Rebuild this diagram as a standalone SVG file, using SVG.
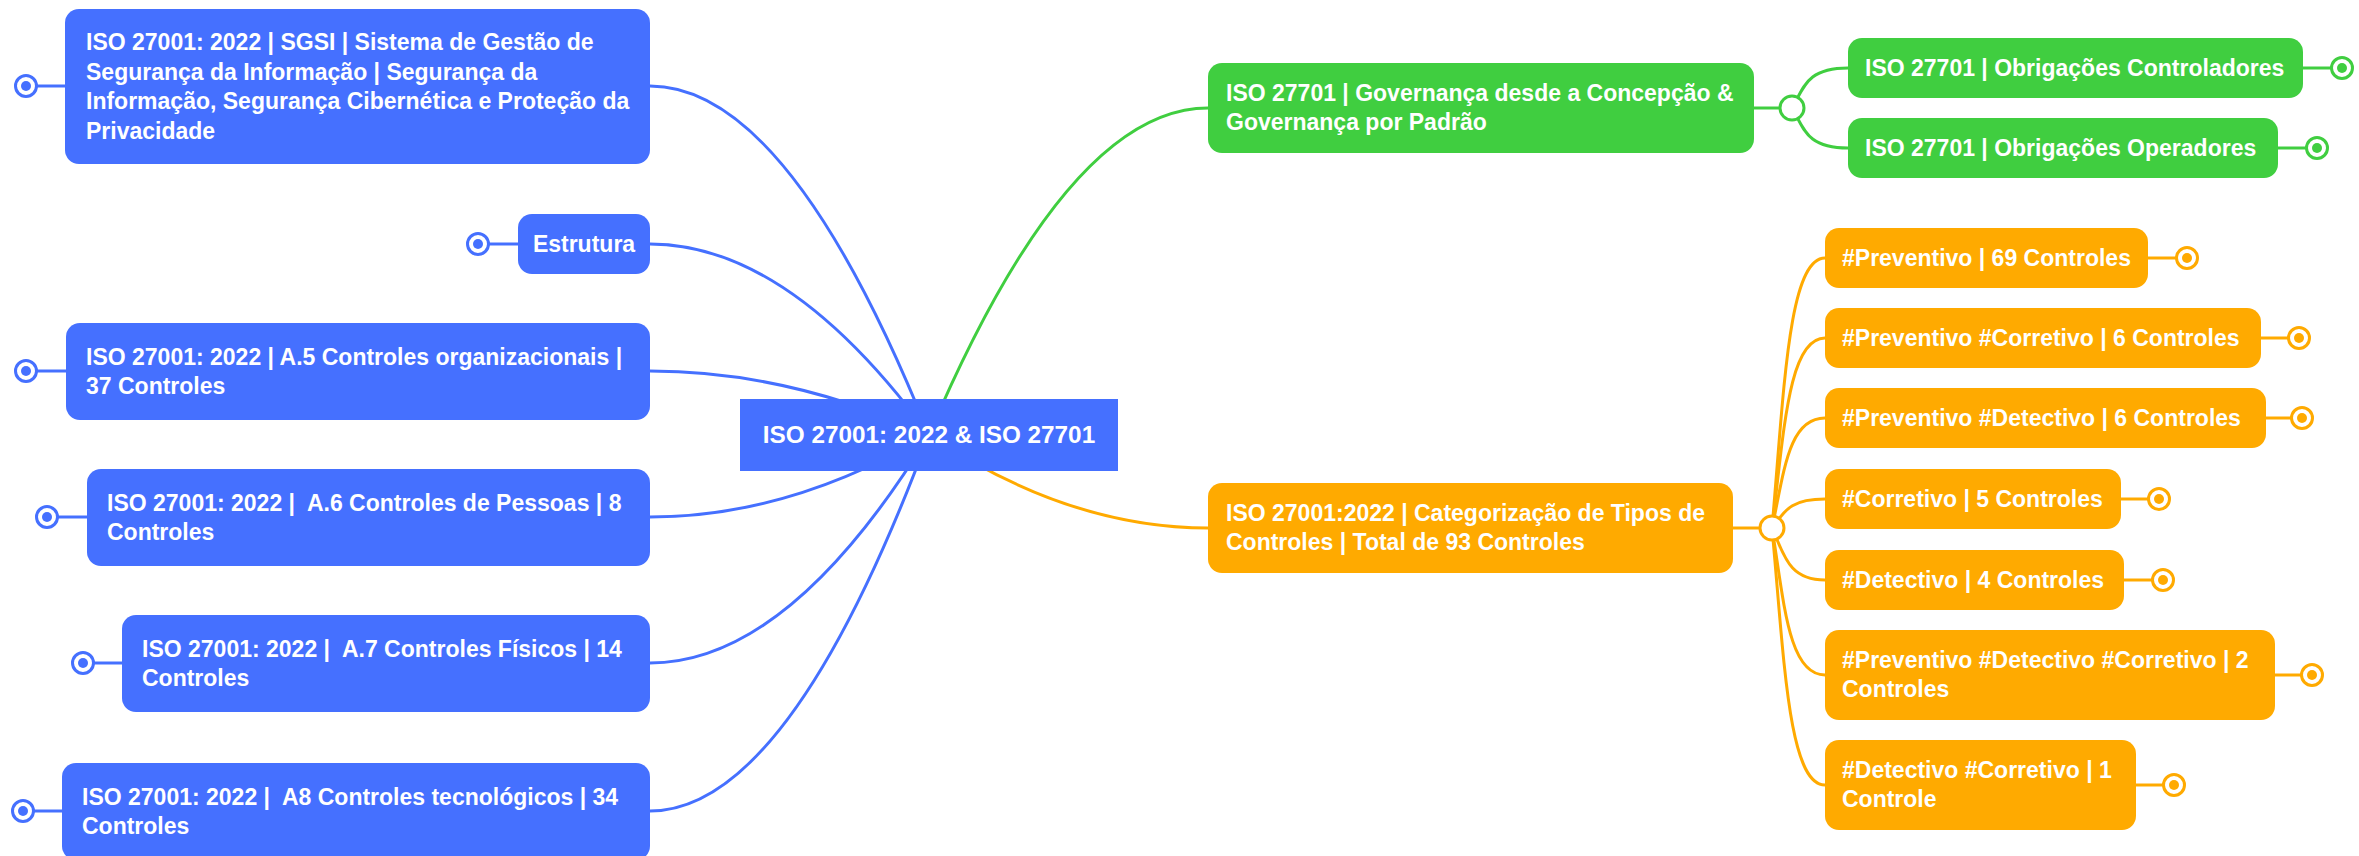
<svg xmlns="http://www.w3.org/2000/svg" width="2359" height="856" viewBox="0 0 2359 856">
<style>
text{font-family:"Liberation Sans",Arial,sans-serif;font-weight:700;font-size:23px;fill:#fff}
.bl{fill:#4570FF}.gr{fill:#40CE40}.or{fill:#FFAA00}
.lb{fill:none;stroke:#4570FF;stroke-width:3}
.lg{fill:none;stroke:#40CE40;stroke-width:3}
.lo{fill:none;stroke:#FFAA00;stroke-width:3}
.db{fill:#fff;stroke:#4570FF;stroke-width:3}
.dg{fill:#fff;stroke:#40CE40;stroke-width:3}
.do{fill:#fff;stroke:#FFAA00;stroke-width:3}
.ib{fill:#4570FF}.ig{fill:#40CE40}.io{fill:#FFAA00}
</style>
<defs>
<g id="dotb"><circle r="10.5" class="db"/><circle r="5" class="ib"/></g>
<g id="dotg"><circle r="10.5" class="dg"/><circle r="5" class="ig"/></g>
<g id="doto"><circle r="10.5" class="do"/><circle r="5" class="io"/></g>
</defs>
<rect width="2359" height="856" fill="#fff"/>
<g id="connectors">
<path class="lb" d="M929,435 Q789,86 650,86"/>
<path class="lb" d="M929,435 Q789,244 650,244"/>
<path class="lb" d="M929,435 Q789,371 650,371"/>
<path class="lb" d="M929,435 Q789,517 650,517"/>
<path class="lb" d="M929,435 Q789,663 650,663"/>
<path class="lb" d="M929,435 Q789,811 650,811"/>
<path class="lg" d="M929,435 Q1068,108 1208,108"/>
<path class="lo" d="M929,435 Q1068,528 1208,528"/>
<path class="lg" d="M1754,108 L1780,108"/>
<path class="lg" d="M1792,108 C1804,88 1806,68 1848,68"/>
<path class="lg" d="M1792,108 C1804,128 1806,148 1848,148"/>
<path class="lo" d="M1733,528 L1760,528"/>
<path class="lo" d="M1772,528 C1784,393 1788,258 1825,258"/>
<path class="lo" d="M1772,528 C1784,433 1788,338 1825,338"/>
<path class="lo" d="M1772,528 C1784,473 1788,418 1825,418"/>
<path class="lo" d="M1772,528 C1784,513 1788,499 1825,499"/>
<path class="lo" d="M1772,528 C1784,554 1788,580 1825,580"/>
<path class="lo" d="M1772,528 C1784,601 1788,675 1825,675"/>
<path class="lo" d="M1772,528 C1784,656 1788,785 1825,785"/>
<circle cx="1792" cy="108" r="12" class="dg"/>
<circle cx="1772" cy="528" r="12" class="do"/>
</g>
<g id="root">
<rect x="740" y="399" width="378" height="72" class="bl"/>
<text x="929" y="443" text-anchor="middle" style="font-size:24.3px">ISO 27001: 2022 &amp; ISO 27701</text>
</g>
<g id="b1">
<path class="lb" d="M65,86 H36"/><use href="#dotb" x="26" y="86"/>
<rect x="65" y="9" width="585" height="155" rx="14" class="bl"/>
<text x="86" y="50">ISO 27001: 2022 | SGSI | Sistema de Gestão de</text>
<text x="86" y="80">Segurança da Informação | Segurança da</text>
<text x="86" y="109">Informação, Segurança Cibernética e Proteção da</text>
<text x="86" y="139">Privacidade</text>
</g>
<g id="b2">
<path class="lb" d="M518,244 H488"/><use href="#dotb" x="478" y="244"/>
<rect x="518" y="214" width="132" height="60" rx="14" class="bl"/>
<text x="584" y="252" text-anchor="middle">Estrutura</text>
</g>
<g id="b3">
<path class="lb" d="M66,371 H36"/><use href="#dotb" x="26" y="371"/>
<rect x="66" y="323" width="584" height="97" rx="14" class="bl"/>
<text x="86" y="365">ISO 27001: 2022 | A.5 Controles organizacionais |</text>
<text x="86" y="394">37 Controles</text>
</g>
<g id="b4">
<path class="lb" d="M87,517 H57"/><use href="#dotb" x="47" y="517"/>
<rect x="87" y="469" width="563" height="97" rx="14" class="bl"/>
<text x="107" y="511" xml:space="preserve">ISO 27001: 2022 |  A.6 Controles de Pessoas | 8</text>
<text x="107" y="540">Controles</text>
</g>
<g id="b5">
<path class="lb" d="M122,663 H93"/><use href="#dotb" x="83" y="663"/>
<rect x="122" y="615" width="528" height="97" rx="14" class="bl"/>
<text x="142" y="657" xml:space="preserve">ISO 27001: 2022 |  A.7 Controles Físicos | 14</text>
<text x="142" y="686">Controles</text>
</g>
<g id="b6">
<path class="lb" d="M62,811 H33"/><use href="#dotb" x="23" y="811"/>
<rect x="62" y="763" width="588" height="97" rx="14" class="bl"/>
<text x="82" y="805" xml:space="preserve">ISO 27001: 2022 |  A8 Controles tecnológicos | 34</text>
<text x="82" y="834">Controles</text>
</g>
<g id="g1">
<rect x="1208" y="63" width="546" height="90" rx="14" class="gr"/>
<text x="1226" y="101">ISO 27701 | Governança desde a Concepção &amp;</text>
<text x="1226" y="130">Governança por Padrão</text>
</g>
<g id="g2">
<path class="lg" d="M2303,68 H2332"/><use href="#dotg" x="2342" y="68"/>
<rect x="1848" y="38" width="455" height="60" rx="14" class="gr"/>
<text x="1865" y="76">ISO 27701 | Obrigações Controladores</text>
</g>
<g id="g3">
<path class="lg" d="M2278,148 H2307"/><use href="#dotg" x="2317" y="148"/>
<rect x="1848" y="118" width="430" height="60" rx="14" class="gr"/>
<text x="1865" y="156">ISO 27701 | Obrigações Operadores</text>
</g>
<g id="o0">
<rect x="1208" y="483" width="525" height="90" rx="14" class="or"/>
<text x="1226" y="521">ISO 27001:2022 | Categorização de Tipos de</text>
<text x="1226" y="550">Controles | Total de 93 Controles</text>
</g>
<g id="o1">
<path class="lo" d="M2148,258 H2177"/><use href="#doto" x="2187" y="258"/>
<rect x="1825" y="228" width="323" height="60" rx="14" class="or"/>
<text x="1842" y="266">#Preventivo | 69 Controles</text>
</g>
<g id="o2">
<path class="lo" d="M2261,338 H2289"/><use href="#doto" x="2299" y="338"/>
<rect x="1825" y="308" width="436" height="60" rx="14" class="or"/>
<text x="1842" y="346">#Preventivo #Corretivo | 6 Controles</text>
</g>
<g id="o3">
<path class="lo" d="M2266,418 H2292"/><use href="#doto" x="2302" y="418"/>
<rect x="1825" y="388" width="441" height="60" rx="14" class="or"/>
<text x="1842" y="426">#Preventivo #Detectivo | 6 Controles</text>
</g>
<g id="o4">
<path class="lo" d="M2121,499 H2149"/><use href="#doto" x="2159" y="499"/>
<rect x="1825" y="469" width="296" height="60" rx="14" class="or"/>
<text x="1842" y="507">#Corretivo | 5 Controles</text>
</g>
<g id="o5">
<path class="lo" d="M2124,580 H2153"/><use href="#doto" x="2163" y="580"/>
<rect x="1825" y="550" width="299" height="60" rx="14" class="or"/>
<text x="1842" y="588">#Detectivo | 4 Controles</text>
</g>
<g id="o6">
<path class="lo" d="M2275,675 H2302"/><use href="#doto" x="2312" y="675"/>
<rect x="1825" y="630" width="450" height="90" rx="14" class="or"/>
<text x="1842" y="668">#Preventivo #Detectivo #Corretivo | 2</text>
<text x="1842" y="697">Controles</text>
</g>
<g id="o7">
<path class="lo" d="M2136,785 H2164"/><use href="#doto" x="2174" y="785"/>
<rect x="1825" y="740" width="311" height="90" rx="14" class="or"/>
<text x="1842" y="778">#Detectivo #Corretivo | 1</text>
<text x="1842" y="807">Controle</text>
</g>
</svg>
